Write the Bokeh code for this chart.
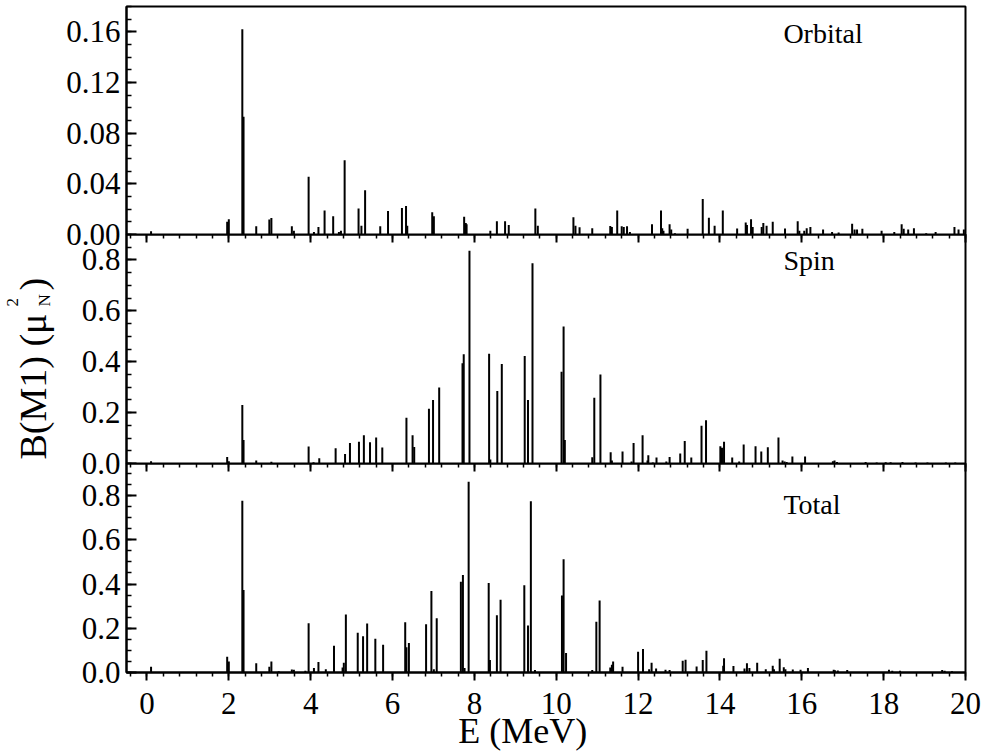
import math
from bokeh.plotting import figure
from bokeh.models import Range1d, LinearAxis, SingleIntervalTicker, PrintfTickFormatter, Label
from bokeh.layouts import column, row
from bokeh.core.properties import value
from bokeh.embed import file_html
from bokeh.resources import INLINE

# ---------------- data ----------------
E_orb = [0.10, 1.96, 2.00, 2.33, 2.36, 2.67, 2.99, 3.04, 3.54, 3.59, 3.95, 4.08, 4.19, 4.34, 4.55, 4.69, 4.74,
         4.83, 5.17, 5.24, 5.33, 5.70, 5.89, 6.23, 6.33, 6.36, 6.97, 7.01, 7.75, 7.79, 7.81, 8.39, 8.55, 8.75,
         8.84, 9.49, 9.55, 10.42, 10.47, 10.57, 10.88, 11.32, 11.36, 11.49, 11.60, 11.65, 11.73, 11.80, 12.34,
         12.56, 12.59, 12.62, 12.77, 12.81, 12.90, 13.21, 13.58, 13.73, 13.87, 14.07, 14.42, 14.63, 14.66, 14.76,
         14.80, 15.02, 15.06, 15.14, 15.29, 15.59, 15.90, 15.94, 16.06, 16.12, 16.21, 16.52, 16.74, 16.90, 17.23,
         17.29, 17.35, 17.48, 17.95, 18.26, 18.44, 18.49, 18.60, 18.74, 19.04, 19.27, 19.73, 19.83, 19.96]
B_orb = [0.0026, 0.010, 0.012, 0.162, 0.093, 0.0065, 0.0118, 0.013, 0.0065, 0.003, 0.0455, 0.002, 0.006, 0.019,
         0.0145, 0.002, 0.003, 0.0586, 0.0205, 0.007, 0.035, 0.0065, 0.0185, 0.021, 0.0225, 0.007, 0.0175, 0.0145,
         0.014, 0.009, 0.008, 0.003, 0.0105, 0.0105, 0.0075, 0.0205, 0.007, 0.0137, 0.007, 0.0057, 0.005, 0.0068,
         0.006, 0.019, 0.0065, 0.006, 0.0065, 0.002, 0.008, 0.019, 0.005, 0.003, 0.008, 0.004, 0.001, 0.0045,
         0.028, 0.0133, 0.007, 0.019, 0.0047, 0.0095, 0.0075, 0.012, 0.006, 0.006, 0.009, 0.007, 0.010, 0.0047,
         0.0105, 0.003, 0.003, 0.005, 0.006, 0.004, 0.002, 0.0015, 0.0085, 0.004, 0.004, 0.0045, 0.003, 0.002,
         0.008, 0.0045, 0.004, 0.005, 0.001, 0.002, 0.006, 0.004, 0.004]

E_spin = [0.10, 1.96, 2.00, 2.33, 2.36, 2.67, 3.04, 3.95, 4.07, 4.21, 4.36, 4.61, 4.84, 4.96, 5.18, 5.30, 5.45,
          5.60, 5.75, 6.34, 6.49, 6.53, 6.89, 6.99, 7.14, 7.71, 7.74, 7.88, 8.36, 8.39, 8.56, 8.67, 9.23, 9.31,
          9.42, 10.13, 10.18, 10.21, 10.88, 10.93, 11.08, 11.33, 11.36, 11.62, 11.84, 11.89, 12.11, 12.23, 12.25,
          12.36, 12.45, 12.69, 12.77, 13.03, 13.14, 13.30, 13.55, 13.66, 14.01, 14.05, 14.10, 14.30, 14.47, 14.58,
          14.87, 15.01, 15.17, 15.43, 15.53, 15.58, 15.63, 15.77, 16.08, 16.76, 16.80, 16.86, 17.56, 17.83, 18.05,
          18.17, 18.46, 18.78, 19.07, 19.52, 19.75]
B_spin = [0.009, 0.026, 0.009, 0.23, 0.092, 0.012, 0.007, 0.067, 0.005, 0.021, 0.002, 0.06, 0.037, 0.081, 0.085,
          0.111, 0.084, 0.102, 0.063, 0.18, 0.111, 0.065, 0.215, 0.25, 0.299, 0.394, 0.429, 0.836, 0.431, 0.016,
          0.285, 0.391, 0.422, 0.25, 0.787, 0.361, 0.538, 0.092, 0.025, 0.258, 0.35, 0.044, 0.012, 0.047, 0.008,
          0.081, 0.111, 0.012, 0.032, 0.004, 0.024, 0.008, 0.026, 0.039, 0.088, 0.024, 0.148, 0.170, 0.068, 0.062,
          0.085, 0.024, 0.008, 0.075, 0.068, 0.047, 0.064, 0.102, 0.012, 0.008, 0.006, 0.028, 0.028, 0.009, 0.012,
          0.006, 0.006, 0.004, 0.005, 0.005, 0.006, 0.004, 0.004, 0.004, 0.004]

E_tot = [0.10, 1.96, 2.00, 2.33, 2.36, 2.67, 2.99, 3.04, 3.22, 3.54, 3.59, 3.87, 3.95, 4.08, 4.19, 4.37, 4.57,
         4.78, 4.81, 4.86, 5.15, 5.28, 5.38, 5.58, 5.77, 6.31, 6.34, 6.40, 6.82, 6.95, 7.01, 7.08, 7.67, 7.72,
         7.76, 7.86, 8.35, 8.38, 8.55, 8.64, 9.22, 9.31, 9.38, 9.48, 10.14, 10.18, 10.24, 10.88, 10.98, 11.06,
         11.32, 11.36, 11.39, 11.62, 12.00, 12.12, 12.27, 12.33, 12.44, 12.67, 12.77, 13.09, 13.16, 13.43, 13.58,
         13.67, 14.08, 14.10, 14.33, 14.60, 14.66, 14.72, 14.91, 15.12, 15.29, 15.32, 15.46, 15.56, 15.60, 15.78,
         15.97, 16.15, 16.78, 16.81, 16.88, 17.11, 18.13, 18.21, 18.40, 19.43, 19.49, 19.67]
B_tot = [0.026, 0.071, 0.05, 0.777, 0.373, 0.042, 0.026, 0.05, 0.006, 0.014, 0.012, 0.008, 0.223, 0.02, 0.048,
         0.015, 0.121, 0.023, 0.044, 0.262, 0.18, 0.164, 0.221, 0.153, 0.126, 0.227, 0.114, 0.133, 0.218, 0.368,
         0.015, 0.245, 0.41, 0.441, 0.02, 0.862, 0.405, 0.056, 0.259, 0.329, 0.394, 0.212, 0.774, 0.011, 0.348,
         0.512, 0.088, 0.011, 0.23, 0.326, 0.023, 0.035, 0.05, 0.026, 0.094, 0.106, 0.015, 0.044, 0.018, 0.012,
         0.011, 0.053, 0.058, 0.027, 0.056, 0.098, 0.03, 0.064, 0.029, 0.018, 0.042, 0.02, 0.044, 0.015, 0.03,
         0.015, 0.062, 0.024, 0.015, 0.014, 0.012, 0.02, 0.012, 0.01, 0.009, 0.011, 0.012, 0.008, 0.008, 0.011,
         0.008, 0.006]

panel_names = ["Orbital", "Spin", "Total"]
x_label = "E (MeV)"
y_label_parts = ["B(M1) (\u03bc", "N", "2", ")"]

FONT = "Liberation Serif"
x_range = Range1d(-0.5, 20)
OVER = 22          # overlap between stacked panels so edge tick labels are not cut
LEFT_W = 60        # width of the strip that holds the y-axis title
P3_BOTTOM = 60     # border under the bottom panel (ticks + tick labels)
STRIP_H = 54       # strip holding the x-axis title
STRIP_OVER = 32


def x_ticker():
    return SingleIntervalTicker(interval=2, num_minor_ticks=5)


def base_fig(height, y_range, **kw):
    return figure(width=984 - LEFT_W, height=height, x_range=x_range, y_range=y_range,
                  output_backend="svg", toolbar_location=None, title=None,
                  min_border_left=126 - LEFT_W, min_border_right=19, **kw)


def make_panel(E, B, ymax, height, yint, yfmt, top_b, bot_b, top_ticks, bottom_axis, name, name_y):
    p = base_fig(height, Range1d(0, ymax),
                 x_axis_location="below" if bottom_axis else None,
                 min_border_top=top_b, min_border_bottom=bot_b)
    p.xgrid.visible = False
    p.ygrid.visible = False
    p.outline_line_color = "black"
    p.outline_line_width = 2
    p.background_fill_color = "white"
    p.border_fill_alpha = 0

    ya = p.yaxis[0]
    ya.ticker = SingleIntervalTicker(interval=yint, num_minor_ticks=4)
    ya.formatter = PrintfTickFormatter(format=yfmt)
    ya.major_tick_in = 10
    ya.major_tick_out = 0
    ya.minor_tick_in = 5
    ya.minor_tick_out = 0
    ya.major_tick_line_width = 2
    ya.minor_tick_line_width = 1.5
    ya.axis_line_width = 2
    ya.major_label_text_font = FONT
    ya.major_label_text_font_size = "31px"
    ya.major_label_text_color = "black"
    ya.major_label_standoff = 6

    if bottom_axis:
        xa = p.xaxis[0]
        xa.ticker = x_ticker()
        xa.major_tick_in = 0
        xa.major_tick_out = 8
        xa.minor_tick_in = 0
        xa.minor_tick_out = 4
        xa.major_tick_line_width = 2
        xa.minor_tick_line_width = 1.5
        xa.axis_line_width = 2
        xa.major_label_text_font = FONT
        xa.major_label_text_font_size = "31px"
        xa.major_label_text_color = "black"
        xa.major_label_standoff = 12

    if top_ticks:
        ta = LinearAxis(ticker=x_ticker(), major_tick_in=8, major_tick_out=0,
                        minor_tick_in=4, minor_tick_out=0,
                        major_tick_line_width=2, minor_tick_line_width=1.5,
                        axis_line_width=2, major_label_text_font_size="0px",
                        major_label_text_color=None, major_label_standoff=0)
        p.add_layout(ta, "above")

    p.segment(x0=E, y0=[0] * len(E), x1=E, y1=B, line_color="black", line_width=2)

    p.add_layout(Label(x=15.55, y=name_y, text=name, text_font=FONT, text_font_size="28px",
                       text_color="black", text_baseline="alphabetic", text_align="left"))
    return p


p1 = make_panel(E_orb, B_orb, 0.18, 234 + OVER, 0.04, "%.2f", 6, OVER, False, False, panel_names[0], 0.159)
p2 = make_panel(E_spin, B_spin, 0.9, 229 + OVER, 0.2, "%.1f", 0, OVER, True, False, panel_names[1], 0.797)
p3 = make_panel(E_tot, B_tot, 0.945, 209 + P3_BOTTOM, 0.2, "%.1f", 0, P3_BOTTOM, True, True,
                panel_names[2], 0.760)
p2.margin = (-OVER, 0, 0, 0)
p3.margin = (-OVER, 0, 0, 0)

# strip under the bottom panel holding the x-axis title (shares the E scale)
strip = base_fig(STRIP_H, Range1d(0, STRIP_H), x_axis_location=None, y_axis_location=None,
                 min_border_top=0, min_border_bottom=0)
strip.xgrid.visible = False
strip.ygrid.visible = False
strip.outline_line_color = None
strip.background_fill_alpha = 0
strip.border_fill_alpha = 0
strip.margin = (-STRIP_OVER, 0, 0, 0)
strip.text(x=[9.18], y=[24], text=[x_label], text_font=value(FONT), text_font_size="36px",
           text_color="black", text_align="center", text_baseline="alphabetic")

# strip on the left holding the rotated y-axis title (B(M1) (mu_N^2)) as real text pieces
lab = figure(width=LEFT_W, height=754, x_range=Range1d(0, LEFT_W), y_range=Range1d(0, 754),
             output_backend="svg", toolbar_location=None, title=None,
             x_axis_location=None, y_axis_location=None,
             min_border_left=0, min_border_right=0, min_border_top=0, min_border_bottom=0)
lab.xgrid.visible = False
lab.ygrid.visible = False
lab.outline_line_color = None
lab.background_fill_color = "white"
lab.border_fill_color = "white"
lab.text(x=[32, 44, 12, 32], y=[295, 448, 448, 464], text=y_label_parts,
         angle=math.pi / 2, text_font=value(FONT), text_font_size=["38px", "17px", "17px", "38px"],
         text_color="black", text_align="left", text_baseline="alphabetic")

layout = row(lab, column(p1, p2, p3, strip, spacing=0), spacing=0)
open("out.html", "w").write(file_html(layout, INLINE))
